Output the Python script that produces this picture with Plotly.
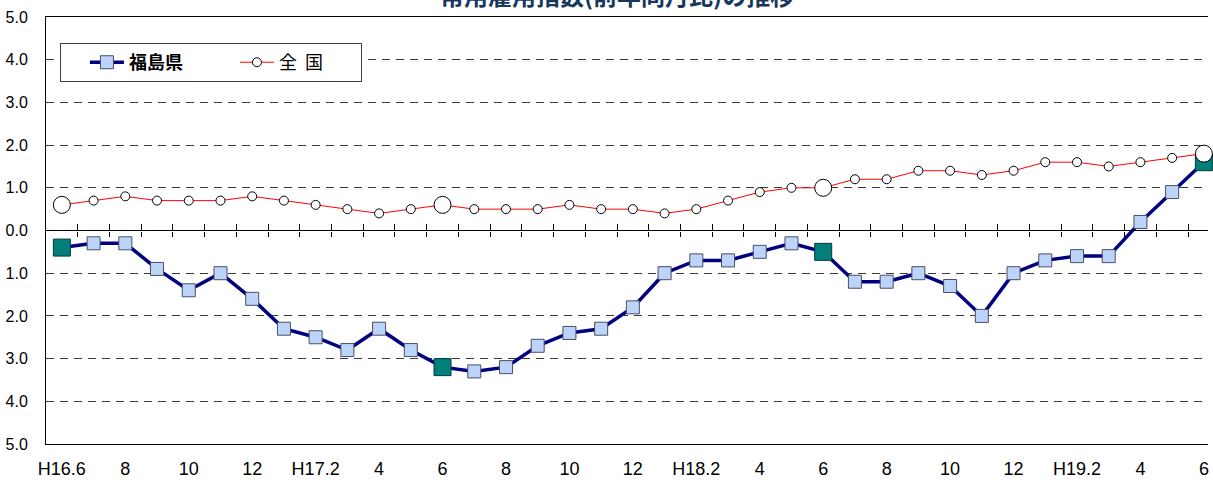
import plotly.graph_objects as go

# ---- data ----
months = ["H16.6", "H16.7", "H16.8", "H16.9", "H16.10", "H16.11", "H16.12",
          "H17.1", "H17.2", "H17.3", "H17.4", "H17.5", "H17.6", "H17.7", "H17.8",
          "H17.9", "H17.10", "H17.11", "H17.12", "H18.1", "H18.2", "H18.3", "H18.4",
          "H18.5", "H18.6", "H18.7", "H18.8", "H18.9", "H18.10", "H18.11", "H18.12",
          "H19.1", "H19.2", "H19.3", "H19.4", "H19.5", "H19.6"]
fukushima = [-0.4, -0.3, -0.3, -0.9, -1.4, -1.0, -1.6, -2.3, -2.5, -2.8, -2.3, -2.8,
             -3.2, -3.3, -3.2, -2.7, -2.4, -2.3, -1.8, -1.0, -0.7, -0.7, -0.5, -0.3,
             -0.5, -1.2, -1.2, -1.0, -1.3, -2.0, -1.0, -0.7, -0.6, -0.6, 0.2, 0.9, 1.6]
national = [0.6, 0.7, 0.8, 0.7, 0.7, 0.7, 0.8, 0.7, 0.6, 0.5, 0.4, 0.5, 0.6, 0.5,
            0.5, 0.5, 0.6, 0.5, 0.5, 0.4, 0.5, 0.7, 0.9, 1.0, 1.0, 1.2, 1.2, 1.4,
            1.4, 1.3, 1.4, 1.6, 1.6, 1.5, 1.6, 1.7, 1.8]
tick_labels = ["H16.6", "8", "10", "12", "H17.2", "4", "6", "8", "10", "12",
               "H18.2", "4", "6", "8", "10", "12", "H19.2", "4", "6"]
y_ticks = [5, 4, 3, 2, 1, 0, -1, -2, -3, -4, -5]
title_text = "常用雇用指数(前年同月比)の推移"

idx = list(range(len(months)))
june_idx = [i for i, m in enumerate(months) if m.endswith(".6")]
tick_pos = idx[::2]
boundaries = [i + 0.5 for i in idx[:-1]]

FONT = "Liberation Sans, Arial, Noto Sans CJK JP, sans-serif"
CJK = "Noto Sans CJK JP, sans-serif"

fig = go.Figure()
fig.add_trace(go.Scatter(
    x=idx, y=fukushima, mode="lines+markers", name="<b>福島県</b>",
    line=dict(color="#000080", width=3.5),
    marker=dict(symbol="square", size=13, color="#BCD3FA",
                line=dict(color="#4A4F63", width=1)),
    cliponaxis=False,
))
fig.add_trace(go.Scatter(
    x=[idx[i] for i in june_idx], y=[fukushima[i] for i in june_idx],
    mode="markers", showlegend=False,
    marker=dict(symbol="square", size=17, color="#007F7B",
                line=dict(color="#003C3A", width=1)),
    cliponaxis=False,
))
fig.add_trace(go.Scatter(
    x=idx, y=national, mode="lines+markers", name="全\u00a0\u00a0国",
    line=dict(color="#FF0000", width=1),
    marker=dict(symbol="circle", size=9, color="white",
                line=dict(color="black", width=1)),
    cliponaxis=False,
))
fig.add_trace(go.Scatter(
    x=[idx[i] for i in june_idx], y=[national[i] for i in june_idx],
    mode="markers", showlegend=False,
    marker=dict(symbol="circle", size=17, color="white",
                line=dict(color="black", width=1)),
    cliponaxis=False,
))

xr = [-0.5, 36.13]
fig.update_layout(
    width=1213, height=483,
    margin=dict(l=46, r=5, t=17, b=39, autoexpand=False),
    paper_bgcolor="white", plot_bgcolor="white",
    font=dict(family=FONT, color="black", size=17),
    showlegend=True,
    legend=dict(
        orientation="h", x=0.012, y=0.939, xanchor="left", yanchor="top",
        bgcolor="white", bordercolor="#404040", borderwidth=1,
        font=dict(family=CJK, size=18, color="black"),
        entrywidth=77, indentation=24, itemwidth=34,
    ),
    xaxis=dict(
        range=xr, tickmode="array", tickvals=tick_pos, ticktext=tick_labels,
        showgrid=False, zeroline=False, showline=True, linecolor="black",
        linewidth=1, mirror=True, ticks="", ticklabelstandoff=8,
        ticklabeloverflow="allow", automargin=False,
        tickfont=dict(size=18, family=FONT),
    ),
    xaxis2=dict(
        range=xr, overlaying="x", anchor="free", position=0.5,
        tickmode="array", tickvals=boundaries, ticks="outside", ticklen=5,
        tickcolor="black", showticklabels=False, showgrid=False,
        zeroline=False, showline=False, automargin=False,
    ),
    xaxis3=dict(
        range=xr, overlaying="x", anchor="free", position=0.5,
        tickmode="array", tickvals=boundaries, ticks="inside", ticklen=7,
        tickcolor="black", showticklabels=False, showgrid=False,
        zeroline=False, showline=False, automargin=False,
    ),
    yaxis=dict(
        range=[-5, 5], tickmode="array", tickvals=y_ticks,
        ticktext=[f"{abs(v):.1f}" for v in y_ticks],
        showgrid=True, gridcolor="#3A3A3A", gridwidth=1, griddash="8px,6px",
        zeroline=True, zerolinecolor="black", zerolinewidth=1,
        showline=True, linecolor="black", linewidth=1, ticks="",
        ticklabelstandoff=14, automargin=False,
        tickfont=dict(size=16, family=FONT),
    ),
    annotations=[dict(
        text=f"<b>{title_text}</b>", xref="paper", yref="paper",
        x=0.491, y=1.052, xanchor="center", yanchor="middle",
        showarrow=False, font=dict(family=CJK, size=24, color="#17375E"),
    )],
)
# invisible helper traces so the overlay tick axes are drawn
fig.add_trace(go.Scatter(x=[0], y=[0], xaxis="x2", mode="markers",
                         marker=dict(opacity=0), showlegend=False, hoverinfo="skip"))
fig.add_trace(go.Scatter(x=[0], y=[0], xaxis="x3", mode="markers",
                         marker=dict(opacity=0), showlegend=False, hoverinfo="skip"))

fig.write_html(
    "out.html",
    config={"displayModeBar": False},
    post_script="document.body.style.margin='0';document.body.style.overflow='hidden';",
)
